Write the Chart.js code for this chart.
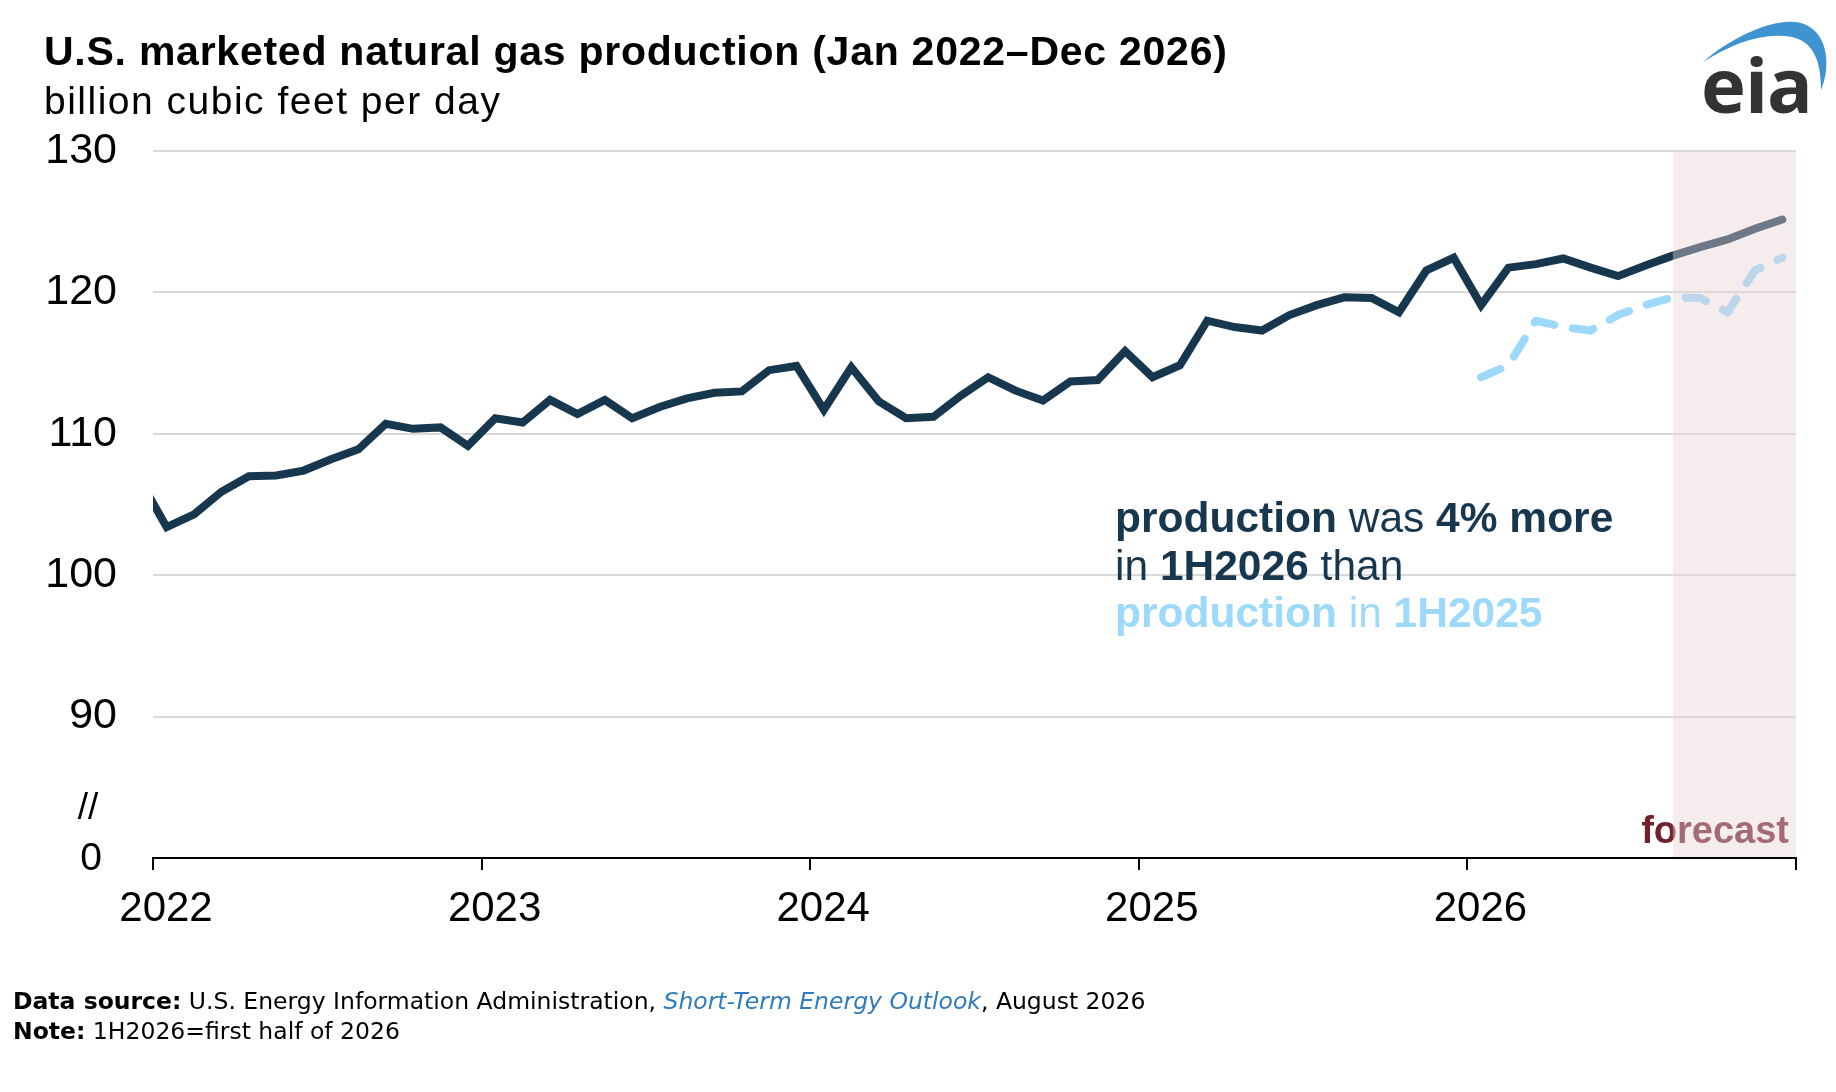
<!DOCTYPE html>
<html>
<head>
<meta charset="utf-8">
<script src="https://cdn.jsdelivr.net/npm/chart.js@4.4.1/dist/chart.umd.min.js"></script>
<style>
  body { margin: 0; background: #fff; }
  #wrap { position: relative; width: 1836px; height: 1092px; overflow: hidden; }
  #chart { position: absolute; left: 0; top: 0; }
  .txt { position: absolute; white-space: nowrap; line-height: 1; font-family: "Liberation Sans", Arial, sans-serif; }
  #title { left: 44px; top: 31px; font-size: 41px; font-weight: bold; letter-spacing: 0.75px; color: #000; }
  #subtitle { left: 44px; top: 81px; font-size: 39px; letter-spacing: 1.5px; color: #000; }
  #note { left: 1115px; top: 494px; font-size: 42.5px; line-height: 47.5px; color: #17374f; }
  #note b { font-weight: bold; }
  #note .light { color: #9dd9fb; }
  #footer { left: 13px; top: 986px; font-family: "DejaVu Sans", sans-serif; font-size: 23.5px; line-height: 30px; color: #000; }
  #footer a { color: #2f7bbf; font-style: italic; text-decoration: none; }
  #logo { position: absolute; left: 1690px; top: 10px; }
</style>
</head>
<body>
<div id="wrap">
  <canvas id="chart" width="1836" height="1092"></canvas>
  <div id="title" class="txt">U.S. marketed natural gas production (Jan 2022–Dec 2026)</div>
  <div id="subtitle" class="txt">billion cubic feet per day</div>
  <div id="note" class="txt">
    <b>production</b> was <b>4% more</b><br>
    in <b>1H2026</b> than<br>
    <span class="light"><b>production</b> in <b>1H2025</b></span>
  </div>
  <div id="footer" class="txt">
    <b>Data source:</b> U.S. Energy Information Administration, <a>Short-Term Energy Outlook</a>, August 2026<br>
    <b>Note:</b> 1H2026=first half of 2026
  </div>
  <svg id="logo" width="146" height="110" viewBox="0 0 146 110">
    <path d="M13,52 C40,28 88,4 114,14 C140,24 140,60 131,80 C131,56 126,32 102,27 C72,22 42,34 13,52 Z" fill="#3f93d1"/>
    <text x="11" y="103" font-family="'Open Sans', sans-serif" font-weight="bold" font-size="76" fill="#333" letter-spacing="-1">eia</text>
  </svg>
</div>

<script>
// year labels on the x axis
const years = ['2022', '2023', '2024', '2025', '2026'];

// marketed natural gas production, billion cubic feet per day (monthly, Jan-Dec)
const prodDec2021 = [106.8];
const prod2022 = [103.4, 104.3, 105.9, 107.0, 107.05, 107.4, 108.2, 108.9, 110.7, 110.35, 110.45, 109.15];
const prod2023 = [111.1, 110.8, 112.4, 111.4, 112.4, 111.1, 111.9, 112.5, 112.9, 113.0, 114.5, 114.8];
const prod2024 = [111.7, 114.7, 112.3, 111.1, 111.2, 112.7, 114.0, 113.05, 112.35, 113.7, 113.8, 115.85];
const prod2025 = [114.0, 114.85, 118.0, 117.55, 117.3, 118.4, 119.1, 119.65, 119.6, 118.6, 121.55, 122.45];
const prod2026 = [119.1, 121.75, 122.0, 122.4, 121.75, 121.15, 121.9, 122.6, 123.2, 123.75, 124.5, 125.15];

// y axis ticks (80 is shown as the broken-axis "0")
const yTicks = [80, 90, 100, 110, 120, 130];

// first forecast month: Aug 2026 (month index from Jan 2022)
const forecastStartIndex = 55;

// build {x, y} points, x = month index from Jan 2022, plotted mid-month
var allMonths = prod2022.concat(prod2023, prod2024, prod2025, prod2026);
var mainPoints = [{ x: -0.5, y: prodDec2021[0] }];
allMonths.forEach(function (v, i) {
    mainPoints.push({ x: i + 0.5, y: v });
});

// 2025 values laid over the 2026 months for comparison
var lastYearPoints = prod2025.map(function (v, i) {
    return { x: 48 + i + 0.5, y: v };
});

const decorations = {
    id: 'decorations',
    afterDatasetsDraw(chart) {
        const ctx = chart.ctx;
        const area = chart.chartArea;
        const x = chart.scales.x;
        const y = chart.scales.y;
        ctx.save();

        // forecast label goes under the shading
        ctx.font = 'bold 38px "Liberation Sans", Arial, sans-serif';
        ctx.fillStyle = '#72222c';
        ctx.textAlign = 'right';
        ctx.textBaseline = 'alphabetic';
        ctx.fillText('forecast', area.right - 7, area.bottom - 15);

        // forecast shading
        const x0 = x.getPixelForValue(forecastStartIndex + 0.5);
        ctx.fillStyle = 'rgba(231, 210, 212, 0.42)';
        ctx.fillRect(x0, area.top, area.right - x0, area.bottom - area.top - 1);

        // broken axis: "0" and "//"
        ctx.fillStyle = '#000';
        ctx.textAlign = 'center';
        ctx.textBaseline = 'middle';
        ctx.font = '39px "Liberation Sans", Arial, sans-serif';
        ctx.fillText('0', area.left - 62, y.getPixelForValue(yTicks[0]) + 1);
        ctx.font = '37px "Liberation Sans", Arial, sans-serif';
        ctx.fillText('//', area.left - 65, y.getPixelForValue(83.5));

        ctx.restore();
    }
};

const ctx = document.getElementById('chart').getContext('2d');
new Chart(ctx, {
    type: 'line',
    data: {
        datasets: [{
            label: '2025',
            data: lastYearPoints,
            borderColor: '#9dd9fb',
            borderWidth: 8,
            borderDash: [21, 19],
            borderCapStyle: 'round',
            borderJoinStyle: 'round',
            pointRadius: 0,
            tension: 0,
            fill: false
        }, {
            label: 'production',
            data: mainPoints,
            borderColor: '#17374f',
            borderWidth: 8,
            borderCapStyle: 'round',
            borderJoinStyle: 'miter',
            pointRadius: 0,
            tension: 0,
            fill: false,
            clip: { left: 0, top: 10, right: 10, bottom: 10 }
        }]
    },
    options: {
        responsive: false,
        devicePixelRatio: 1,
        animation: false,
        layout: { padding: { left: 0, top: 151, right: 40, bottom: 0 } },
        plugins: {
            legend: { display: false },
            tooltip: { enabled: false }
        },
        scales: {
            x: {
                type: 'linear',
                min: 0,
                max: 60,
                afterFit: function (scale) { scale.height = 234; },
                border: { display: true, color: '#000', width: 2 },
                grid: {
                    drawOnChartArea: false,
                    drawTicks: true,
                    tickLength: 12,
                    color: '#000',
                    lineWidth: 2
                },
                ticks: {
                    stepSize: 12,
                    autoSkip: false,
                    maxRotation: 0,
                    labelOffset: 13,
                    padding: 14,
                    color: '#000',
                    font: { family: '"Liberation Sans", Arial, sans-serif', size: 42 },
                    callback: function (value) {
                        return years[value / 12] || '';
                    }
                }
            },
            y: {
                min: yTicks[0],
                max: yTicks[yTicks.length - 1],
                afterFit: function (scale) { scale.width = 153; },
                afterBuildTicks: function (scale) {
                    scale.ticks = yTicks.map(function (v) { return { value: v }; });
                },
                border: { display: false },
                grid: {
                    drawTicks: false,
                    lineWidth: 2,
                    color: function (c) {
                        return c.tick && c.tick.value === yTicks[0] ? 'rgba(0,0,0,0)' : '#d9d9d9';
                    }
                },
                ticks: {
                    padding: 36,
                    color: '#000',
                    font: { family: '"Liberation Sans", Arial, sans-serif', size: 43 },
                    callback: function (value) {
                        return value === yTicks[0] ? '' : String(value);
                    }
                }
            }
        }
    },
    plugins: [decorations]
});
</script>
</body>
</html>
